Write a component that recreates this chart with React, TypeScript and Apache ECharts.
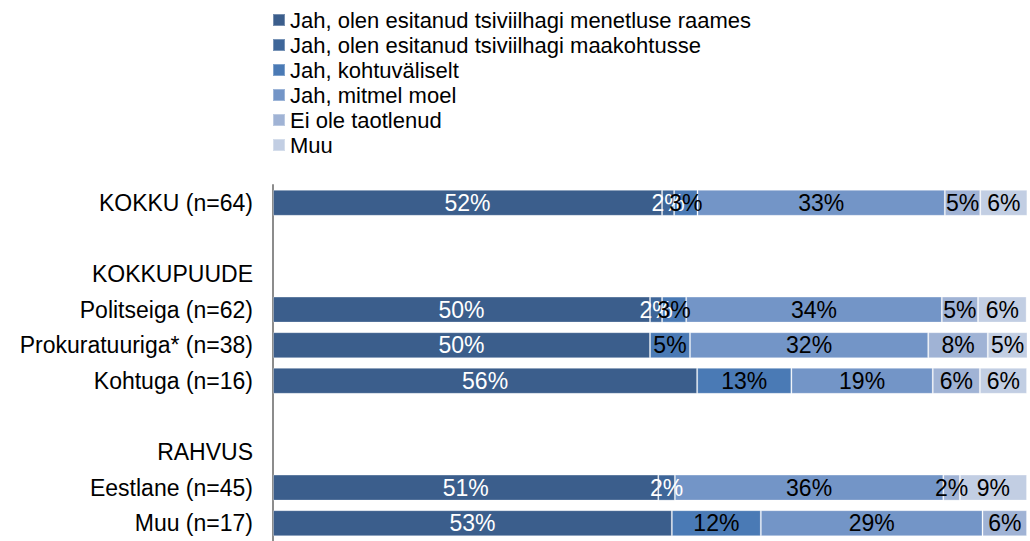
import React, { useEffect, useRef } from "react";
import * as echarts from "echarts";

const categories = [
  "KOKKU (n=64)",
  " ",
  "KOKKUPUUDE",
  "Politseiga (n=62)",
  "Prokuratuuriga* (n=38)",
  "Kohtuga (n=16)",
  "  ",
  "RAHVUS",
  "Eestlane (n=45)",
  "Muu (n=17)",
];

const seriesNames = [
  "Jah, olen esitanud tsiviilhagi menetluse raames",
  "Jah, olen esitanud tsiviilhagi maakohtusse",
  "Jah, kohtuväliselt",
  "Jah, mitmel moel",
  "Ei ole taotlenud",
  "Muu",
];

// percentages per category (null = no bar)
const menetluseRaames = [51.6, null, null, 50.0, 50.0, 56.25, null, null, 51.1, 52.9];
const maakohtusse = [1.6, null, null, 1.6, 0, 0, null, null, 2.2, 0];
const kohtuvaliselt = [3.1, null, null, 3.2, 5.3, 12.5, null, null, 0, 11.8];
const mitmelMoel = [32.8, null, null, 33.9, 31.6, 18.75, null, null, 35.6, 29.4];
const eiOleTaotlenud = [4.7, null, null, 4.8, 7.9, 6.25, null, null, 2.2, 5.9];
const muu = [6.25, null, null, 6.45, 5.3, 6.25, null, null, 8.9, 0];

const seriesValues = [menetluseRaames, maakohtusse, kohtuvaliselt, mitmelMoel, eiOleTaotlenud, muu];
const colors = ["#3b5e8c", "#3e6699", "#4a7ab5", "#7395c7", "#a0b3d5", "#c2cee3"];
const labelColors = ["#ffffff", "#ffffff", "#000000", "#000000", "#000000", "#000000"];

const FONT = "Liberation Sans, Arial, sans-serif";

export default function App() {
  const ref = useRef<HTMLDivElement>(null);
  useEffect(() => {
    document.body.style.margin = "0";
    const chart = echarts.init(ref.current!, null, { renderer: "svg" });
    chart.setOption({
      animation: false,
      textStyle: { fontFamily: FONT },
      legend: {
        orient: "vertical",
        left: 272,
        top: 9,
        padding: 0,
        itemWidth: 12,
        itemHeight: 12,
        itemGap: 3,
        icon: "rect",
        data: seriesNames,
        textStyle: { fontSize: 22, color: "#000", lineHeight: 22, fontFamily: FONT },
      },
      grid: { left: 273, top: 185, width: 754, height: 363, containLabel: false },
      xAxis: {
        type: "value",
        min: 0,
        max: 100,
        show: false,
      },
      yAxis: {
        type: "category",
        inverse: true,
        data: categories,
        axisLine: { show: true, lineStyle: { color: "#8c8c8c", width: 2 } },
        axisTick: { show: false },
        axisLabel: { fontSize: 23, color: "#000", margin: 20, fontFamily: FONT },
      },
      series: seriesValues.map((vals, i) => ({
        name: seriesNames[i],
        type: "bar",
        stack: "total",
        barWidth: 26,
        data: vals.map((v) => (v === 0 ? null : v)),
        itemStyle: { color: colors[i], borderColor: "rgba(255,255,255,0.3)", borderWidth: 1 },
        label: {
          show: true,
          position: "inside",
          color: labelColors[i],
          fontSize: 23,
          fontFamily: FONT,
          formatter: (p: any) => (p.value == null ? "" : Math.round(p.value) + "%"),
        },
      })),
    });
    return () => chart.dispose();
  }, []);
  return <div ref={ref} style={{ width: 1030, height: 541 }} />;
}
